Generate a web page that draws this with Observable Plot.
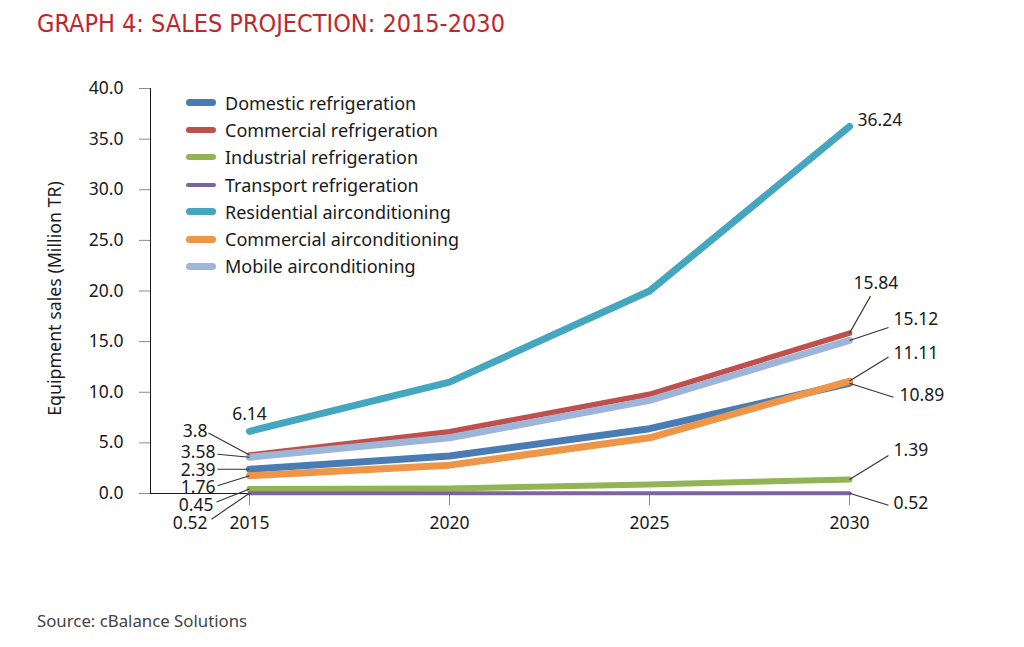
<!DOCTYPE html>
<html>
<head>
<meta charset="utf-8">
<script src="https://cdn.jsdelivr.net/npm/d3@7"></script>
<script src="https://cdn.jsdelivr.net/npm/@observablehq/plot@0.6"></script>
<style>
  html, body { margin: 0; padding: 0; background: #fff; }
  #wrap { position: relative; width: 1024px; height: 647px; overflow: hidden; font-family: "Noto Sans", "Open Sans", sans-serif; }
  #title { position: absolute; left: 37px; top: 9px; font-family: "Liberation Sans Narrow", "DejaVu Sans Condensed", sans-serif; font-size: 25px; color: #c0272d; white-space: nowrap; }
  #source { position: absolute; left: 37px; top: 609px; font-size: 16.8px; color: #444; white-space: nowrap; }
  #chart { position: absolute; left: 0; top: 0; }
  #legend { position: absolute; left: 186px; top: 89px; }
  .row { display: flex; align-items: center; height: 27.3px; font-size: 18px; color: #1a1a1a; white-space: nowrap; }
  .sw { width: 30px; border-radius: 4px; margin-right: 9px; }
</style>
</head>
<body>
<div id="wrap">
  <div id="chart"></div>
  <div id="title"></div>
  <div id="legend"></div>
  <div id="source"></div>
</div>
<script>
// ---- data ----
const titleText = "GRAPH 4: SALES PROJECTION: 2015-2030";
const sourceText = "Source: cBalance Solutions";
const yLabel = "Equipment sales (Million TR)";
const years = [2015, 2020, 2025, 2030];
const seriesNames = [
  "Domestic refrigeration",
  "Commercial refrigeration",
  "Industrial refrigeration",
  "Transport refrigeration",
  "Residential airconditioning",
  "Commercial airconditioning",
  "Mobile airconditioning"
];
const domestic    = [2.39, 3.7, 6.4, 10.89];
const commRefrig  = [3.8, 6.1, 9.8, 15.84];
const industrial  = [0.45, 0.5, 0.9, 1.39];
const transport   = [0.03, 0.03, 0.03, 0.03];
const residential = [6.14, 11.0, 20.0, 36.24];
const commAC      = [1.76, 2.8, 5.5, 11.11];
const mobileAC    = [3.58, 5.5, 9.2, 15.12];
const seriesValues = [domestic, commRefrig, industrial, transport, residential, commAC, mobileAC];
const yTicks = [0, 5, 10, 15, 20, 25, 30, 35, 40];
// value labels printed on the chart
const startLabels = ["2.39", "3.8", "0.45", "0.52", "6.14", "1.76", "3.58"];
const endLabels   = ["10.89", "15.84", "1.39", "0.52", "36.24", "11.11", "15.12"];

// ---- styles ----
const colors = ["#4a7cb4", "#c0504d", "#93b452", "#7d63a0", "#45a6bf", "#ef9547", "#9db5d9"];
const widths = [7, 5.5, 6, 4, 7, 7, 7];
const FS = 17.5;

// ---- layout ----
const W = 1024, H = 647;
const mL = 150, mR = 175, mT = 88, mB = 154, insetL = 99;
const pxPerYear = (W - mL - mR - insetL) / (years[3] - years[0]);
const pxPerUnit = (H - mT - mB) / 40;
// label placement offsets in pixels from the line end point: [textDx, textDy, leaderDx, leaderDy]
const startPlace = [
  [-34, 1, -32, 0],
  [-42, -24, -41, -22],
  [-36, 16, -33, 13],
  [-42, 30, -38, 26],
  [0, -17, null, null],
  [-34, 12, -32, 10],
  [-34, -5, -32, -3]
];
const endPlace = [
  [50, 12, 44, 14],
  [4, -50, 21, -37],
  [44, -29, 39, -24],
  [44, 10, 39, 12],
  [8, -6, null, null],
  [44, -28, 39, -24],
  [44, -21, 39, -13]
];

const rows = [];
seriesNames.forEach((s, i) => years.forEach((yr, j) => rows.push({series: s, idx: i, year: yr, value: seriesValues[i][j]})));

const ann = [];
seriesNames.forEach((s, i) => {
  [[0, startLabels, startPlace, "end"], [3, endLabels, endPlace, "start"]].forEach(([j, labs, place, side]) => {
    const [tdx, tdy, ldx, ldy] = place[i];
    const x0 = years[j], y0 = seriesValues[i][j];
    ann.push({
      text: labs[i], x0, y0,
      tx: x0 + tdx / pxPerYear, ty: y0 - tdy / pxPerUnit,
      lx: ldx == null ? null : x0 + ldx / pxPerYear,
      ly: ldy == null ? null : y0 - ldy / pxPerUnit,
      anchor: ldx == null && side === "end" ? "middle" : side
    });
  });
});

const marks = [];
seriesNames.forEach((s, i) => {
  marks.push(Plot.line(rows.filter(d => d.idx === i), {
    x: "year", y: "value", stroke: colors[i], strokeWidth: widths[i],
    strokeLinecap: "round", strokeLinejoin: "round"
  }));
});
marks.push(Plot.link(ann.filter(d => d.lx != null), {
  x1: "x0", y1: "y0", x2: "lx", y2: "ly", stroke: "#333", strokeWidth: 1.1
}));
["start", "end", "middle"].forEach(a => {
  marks.push(Plot.text(ann.filter(d => d.anchor === a), {
    x: "tx", y: "ty", text: "text", textAnchor: a, fill: "#1a1a1a",
    fontSize: FS, lineAnchor: "middle"
  }));
});

const plot = Plot.plot({
  width: W, height: H,
  marginLeft: mL, marginRight: mR, marginTop: mT, marginBottom: mB,
  style: { fontFamily: "'Noto Sans', 'Open Sans', sans-serif", fontSize: FS + "px", color: "#1a1a1a", background: "transparent" },
  x: { domain: [years[0], years[3]], insetLeft: insetL, ticks: years, tickFormat: d => String(d), tickSize: 12, tickPadding: 11, line: true, label: null },
  y: { domain: [0, 40], ticks: yTicks, tickFormat: d => d.toFixed(1), tickSize: 11, tickPadding: 16, line: true, label: null },
  marks
});
d3.select(plot).selectAll("[aria-label='x-axis tick'], [aria-label='y-axis tick'], [aria-label='x-axis line'], [aria-label='y-axis line'], [aria-label^='rule']").attr("stroke", "#8a8a8a");
d3.select(plot).selectAll("[aria-label='x-axis tick label'], [aria-label='y-axis tick label']").attr("fill", "#1a1a1a");

// y axis title
d3.select(plot).append("text")
  .attr("transform", `translate(56, ${(mT + H - mB) / 2 + 8}) rotate(-90)`)
  .attr("text-anchor", "middle").attr("dominant-baseline", "middle")
  .attr("font-size", 17.8).attr("fill", "#1a1a1a").text(yLabel);

document.getElementById("chart").appendChild(plot);
document.getElementById("title").textContent = titleText;
document.getElementById("source").textContent = sourceText;

const leg = d3.select("#legend");
seriesNames.forEach((s, i) => {
  const r = leg.append("div").attr("class", "row");
  r.append("div").attr("class", "sw").style("height", widths[i] + "px").style("background", colors[i]);
  r.append("span").text(s);
});
</script>
</body>
</html>
